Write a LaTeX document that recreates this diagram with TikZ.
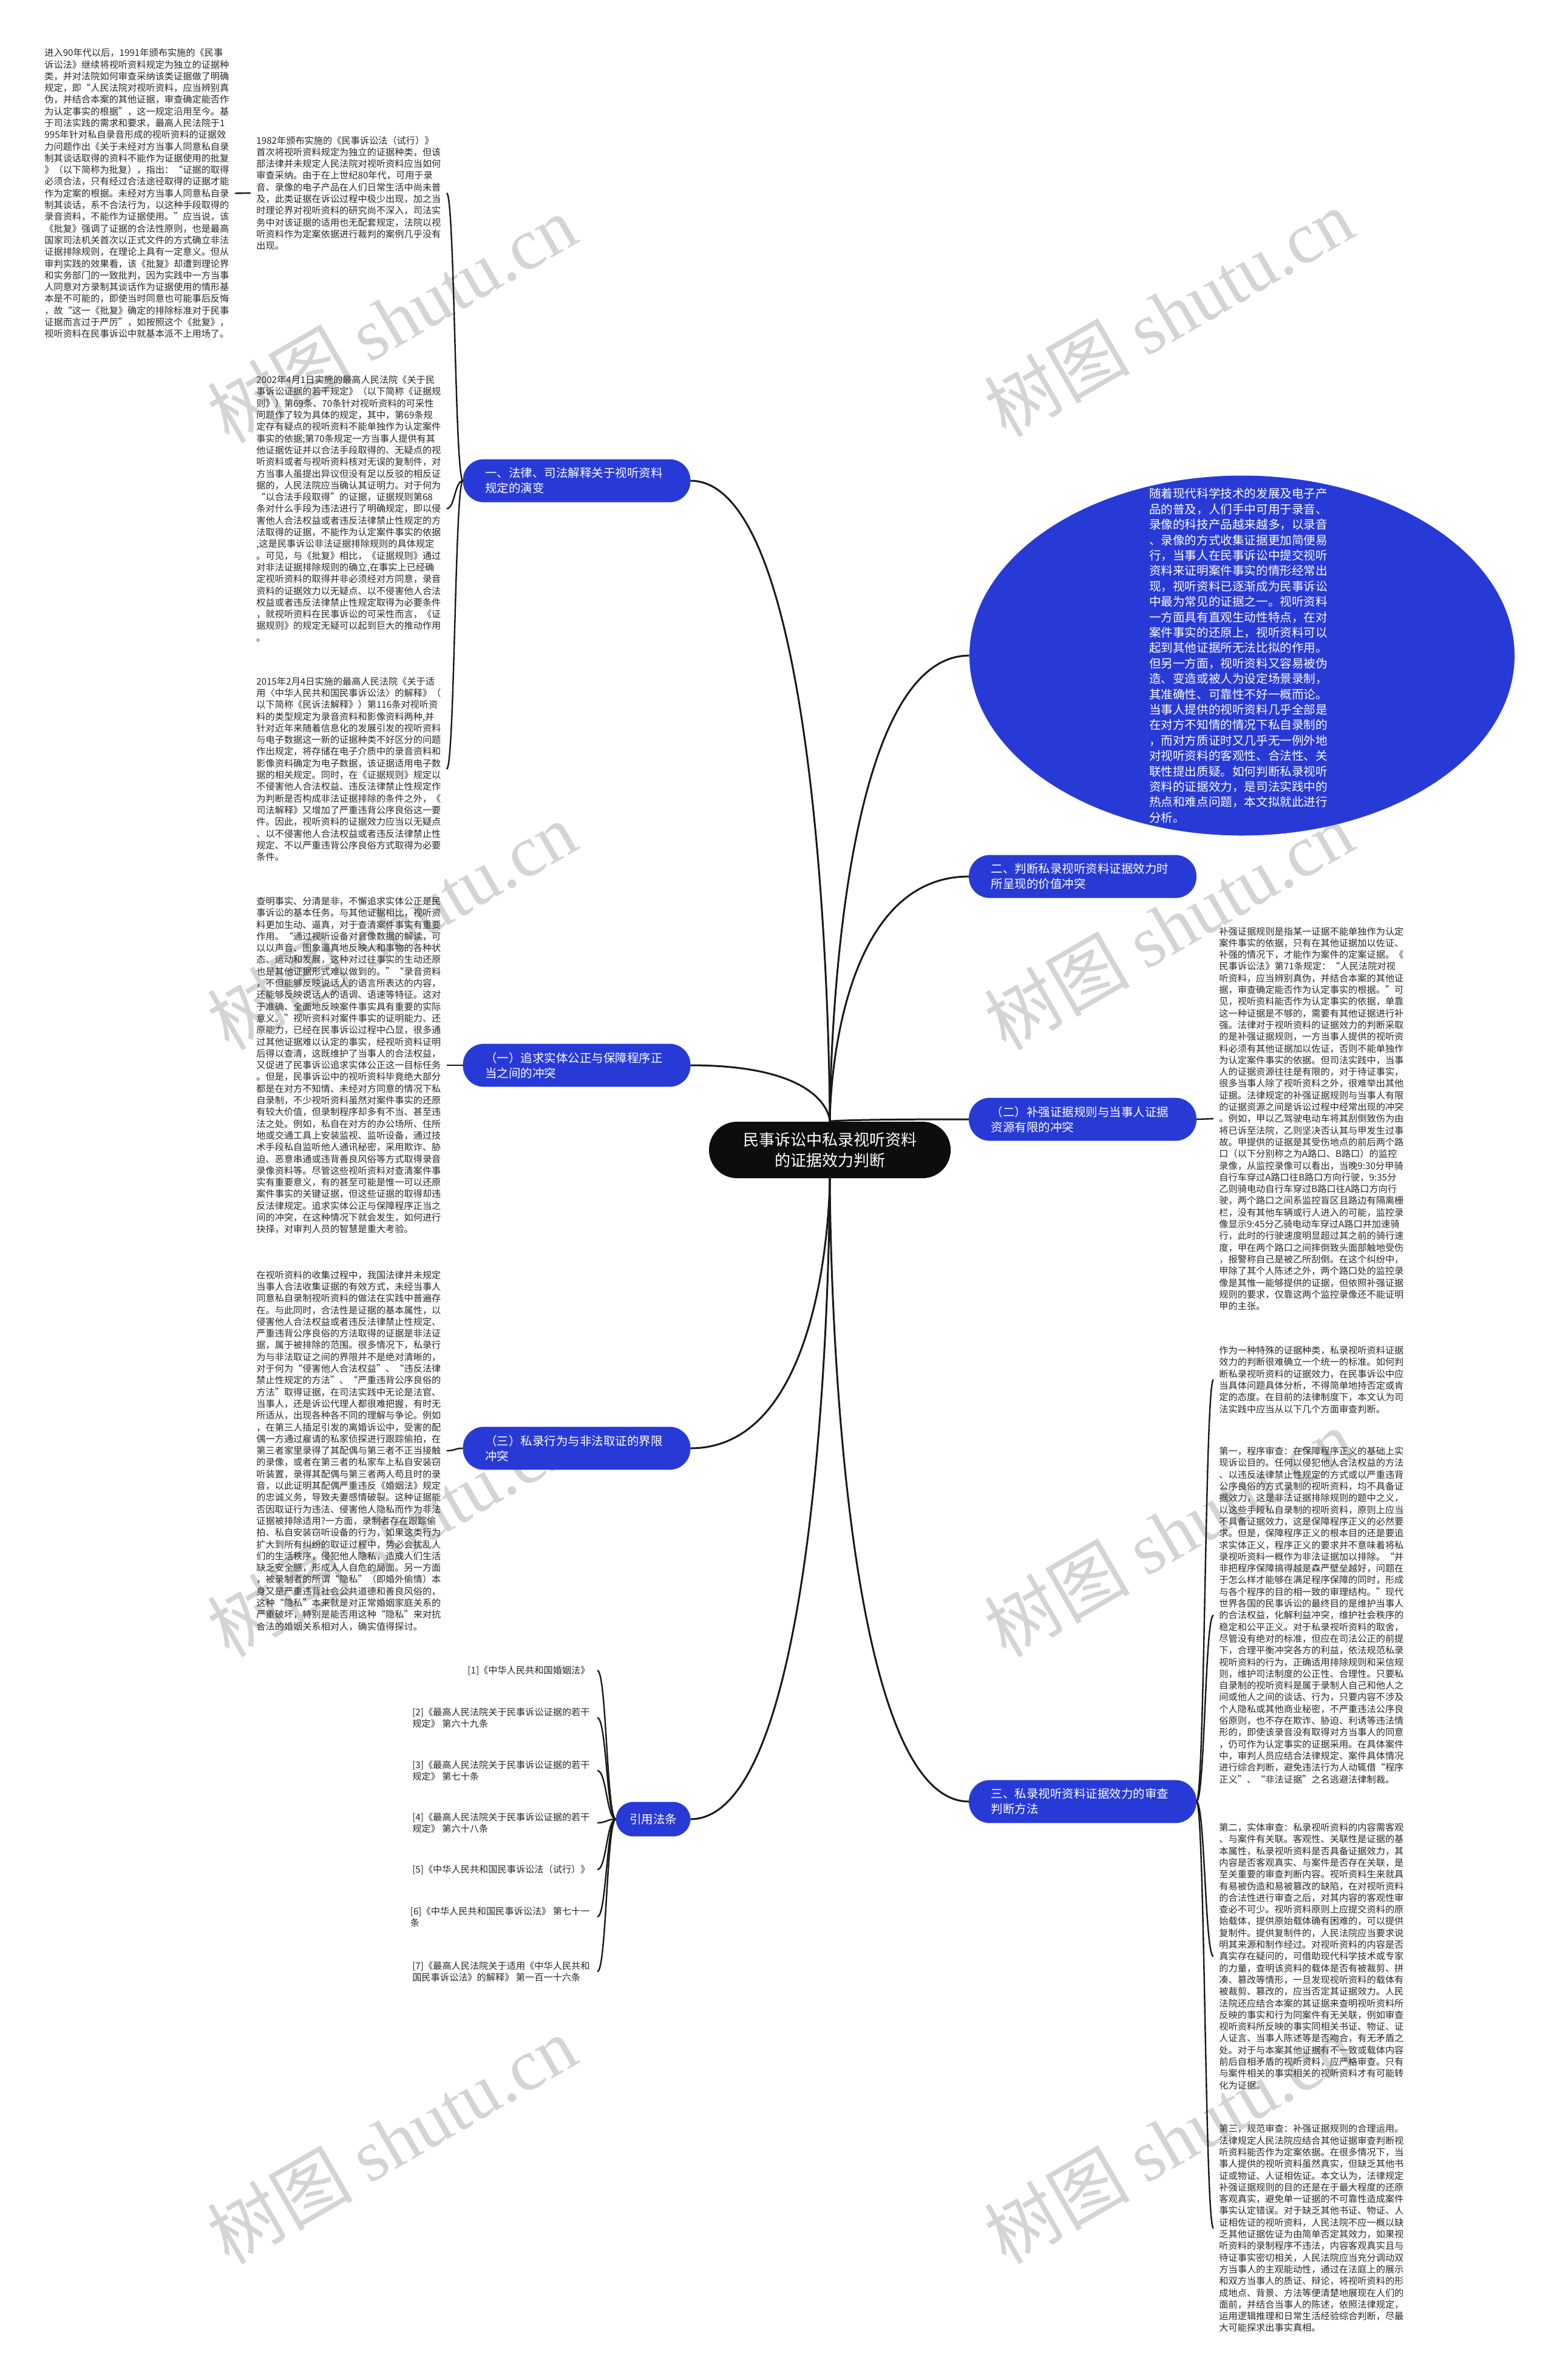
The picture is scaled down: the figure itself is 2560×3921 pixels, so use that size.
\documentclass[tikz,border=0pt]{standalone}
\usepackage{fontspec}
\setmainfont{Noto Sans CJK SC}
\newfontfamily\wmlat{Liberation Serif}
\usetikzlibrary{shapes.geometric,calc}
\definecolor{nodeblue}{RGB}{40,58,214}
\definecolor{wmgray}{RGB}{212,212,212}
\definecolor{txtgray}{RGB}{40,40,40}
\tikzset{
  blk/.style={font=\fontsize{7.6pt}{9.65pt}\selectfont, text=txtgray, align=left, text width=152pt, inner xsep=4.5pt, inner ysep=0pt, anchor=west},
  refitem/.style={font=\fontsize{7.6pt}{9.65pt}\selectfont, text=txtgray, align=left, inner xsep=6pt, inner ysep=0pt, anchor=east},
  br/.style={fill=nodeblue, draw=nodeblue, rounded corners=17pt, minimum width=187pt, minimum height=35pt, text width=151pt, inner xsep=18pt, inner ysep=0pt, align=left, text=white, font=\fontsize{9.75pt}{12.5pt}\selectfont},
  brsmall/.style={fill=nodeblue, draw=nodeblue, rounded corners=14pt, minimum width=61pt, minimum height=28pt, inner sep=0pt, align=center, text=white, font=\fontsize{9.75pt}{12.5pt}\selectfont},
  ctr/.style={fill=black!95, rounded corners=23pt, minimum width=199pt, minimum height=46.5pt, inner sep=0pt, align=center, text=white, font=\fontsize{13pt}{17pt}\selectfont},
  mconn/.style={draw=black!90, line width=1.5pt, to path={let \p1=(\tikztostart), \p2=(\tikztotarget) in .. controls (\x2,\y1) and (\x2,\y2) .. (\tikztotarget)}},
  sconn/.style={draw=black!90, line width=1.2pt, to path={let \p1=(\tikztostart), \p2=(\tikztotarget) in .. controls ({0.5*\x1+0.5*\x2},\y1) and ({0.5*\x1+0.5*\x2},\y2) .. (\tikztotarget)}},
  wm/.style={text=wmgray, rotate=30, font=\fontsize{60pt}{60pt}\selectfont, inner sep=0pt}
}
\begin{document}
\begin{tikzpicture}[x=0.5pt,y=-0.5pt]
\fill[white] (0,0) rectangle (2560,3921);
\useasboundingbox (0,0) rectangle (2560,3921);

% watermarks
\node[wm] (w1) at (645,525) {树图 {\wmlat shutu.cn}};
\node[wm] (w2) at (1925,515) {树图 {\wmlat shutu.cn}};
\node[wm] (w3) at (645,1525) {树图 {\wmlat shutu.cn}};
\node[wm] (w4) at (1925,1525) {树图 {\wmlat shutu.cn}};
\node[wm] (w5) at (645,2525) {树图 {\wmlat shutu.cn}};
\node[wm] (w6) at (1925,2525) {树图 {\wmlat shutu.cn}};
\node[wm] (w7) at (645,3525) {树图 {\wmlat shutu.cn}};
\node[wm] (w8) at (1925,3525) {树图 {\wmlat shutu.cn}};

% center
\node[ctr] (c) at (1367,1894.5) {民事诉讼中私录视听资料\\的证据效力判断};

% branch nodes
\node[br] (b1) at (950,792) {一、法律、司法解释关于视听资料\\规定的演变};
\node[br] (b2) at (950,1755) {（一）追求实体公正与保障程序正\\当之间的冲突};
\node[br] (b3) at (950,2386) {（三）私录行为与非法取证的界限\\冲突};
\node[brsmall] (rf) at (1076,2997) {引用法条};
\node[br] (n2) at (1783.5,1444) {二、判断私录视听资料证据效力时\\所呈现的价值冲突};
\node[br] (n22) at (1783.5,1844) {（二）补强证据规则与当事人证据\\资源有限的冲突};
\node[br] (n3) at (1783.5,2968) {三、私录视听资料证据效力的审查\\判断方法};

% ellipse
\node[ellipse, fill=nodeblue, minimum width=449pt, minimum height=296.5pt, inner sep=0pt] (ell) at (2046,1080) {};
\node[font=\fontsize{9.8pt}{12.7pt}\selectfont, text=white, align=left, inner sep=0pt] (elltxt) at (2040,1080) {随着现代科学技术的发展及电子产\\品的普及，人们手中可用于录音、\\录像的科技产品越来越多，以录音\\、录像的方式收集证据更加简便易\\行，当事人在民事诉讼中提交视听\\资料来证明案件事实的情形经常出\\现，视听资料已逐渐成为民事诉讼\\中最为常见的证据之一。视听资料\\一方面具有直观生动性特点，在对\\案件事实的还原上，视听资料可以\\起到其他证据所无法比拟的作用。\\但另一方面，视听资料又容易被伪\\造、变造或被人为设定场景录制，\\其准确性、可靠性不好一概而论。\\当事人提供的视听资料几乎全部是\\在对方不知情的情况下私自录制的\\，而对方质证时又几乎无一例外地\\对视听资料的客观性、合法性、关\\联性提出质疑。如何判断私录视听\\资料的证据效力，是司法实践中的\\热点和难点问题，本文拟就此进行\\分析。};

% left text blocks
\node[blk] (t1) at (64,318.5) {进入90年代以后，1991年颁布实施的《民事\\诉讼法》继续将视听资料规定为独立的证据种\\类，并对法院如何审查采纳该类证据做了明确\\规定，即“人民法院对视听资料，应当辨别真\\伪，并结合本案的其他证据，审查确定能否作\\为认定事实的根据”，这一规定沿用至今。基\\于司法实践的需求和要求，最高人民法院于1\\995年针对私自录音形成的视听资料的证据效\\力问题作出《关于未经对方当事人同意私自录\\制其谈话取得的资料不能作为证据使用的批复\\》（以下简称为批复），指出：“证据的取得\\必须合法，只有经过合法途径取得的证据才能\\作为定案的根据。未经对方当事人同意私自录\\制其谈话，系不合法行为，以这种手段取得的\\录音资料，不能作为证据使用。”应当说，该\\《批复》强调了证据的合法性原则，也是最高\\国家司法机关首次以正式文件的方式确立非法\\证据排除规则，在理论上具有一定意义。但从\\审判实践的效果看，该《批复》却遭到理论界\\和实务部门的一致批判，因为实践中一方当事\\人同意对方录制其谈话作为证据使用的情形基\\本是不可能的，即使当时同意也可能事后反悔\\，故“这一《批复》确定的排除标准对于民事\\证据而言过于严厉”，如按照这个《批复》，\\视听资料在民事诉讼中就基本派不上用场了。};

\node[blk] (t2) at (413,318) {1982年颁布实施的《民事诉讼法（试行）》\\首次将视听资料规定为独立的证据种类，但该\\部法律并未规定人民法院对视听资料应当如何\\审查采纳。由于在上世纪80年代，可用于录\\音、录像的电子产品在人们日常生活中尚未普\\及，此类证据在诉讼过程中极少出现，加之当\\时理论界对视听资料的研究尚不深入，司法实\\务中对该证据的适用也无配套规定，法院以视\\听资料作为定案依据进行裁判的案例几乎没有\\出现。};

\node[blk] (t3) at (413,838) {2002年4月1日实施的最高人民法院《关于民\\事诉讼证据的若干规定》（以下简称《证据规\\则》）第69条、70条针对视听资料的可采性\\问题作了较为具体的规定，其中，第69条规\\定存有疑点的视听资料不能单独作为认定案件\\事实的依据;第70条规定一方当事人提供有其\\他证据佐证并以合法手段取得的、无疑点的视\\听资料或者与视听资料核对无误的复制件，对\\方当事人虽提出异议但没有足以反驳的相反证\\据的，人民法院应当确认其证明力。对于何为\\“以合法手段取得”的证据，证据规则第68\\条对什么手段为违法进行了明确规定，即以侵\\害他人合法权益或者违反法律禁止性规定的方\\法取得的证据，不能作为认定案件事实的依据\\,这是民事诉讼非法证据排除规则的具体规定\\。可见，与《批复》相比，《证据规则》通过\\对非法证据排除规则的确立,在事实上已经确\\定视听资料的取得并非必须经对方同意，录音\\资料的证据效力以无疑点、以不侵害他人合法\\权益或者违反法律禁止性规定取得为必要条件\\，就视听资料在民事诉讼的可采性而言，《证\\据规则》的规定无疑可以起到巨大的推动作用\\。};

\node[blk] (t4) at (413,1267) {2015年2月4日实施的最高人民法院《关于适\\用〈中华人民共和国民事诉讼法〉的解释》（\\以下简称《民诉法解释》）第116条对视听资\\料的类型规定为录音资料和影像资料两种,并\\针对近年来随着信息化的发展引发的视听资料\\与电子数据这一新的证据种类不好区分的问题\\作出规定，将存储在电子介质中的录音资料和\\影像资料确定为电子数据，该证据适用电子数\\据的相关规定。同时，在《证据规则》规定以\\不侵害他人合法权益、违反法律禁止性规定作\\为判断是否构成非法证据排除的条件之外，《\\司法解释》又增加了严重违背公序良俗这一要\\件。因此，视听资料的证据效力应当以无疑点\\、以不侵害他人合法权益或者违反法律禁止性\\规定、不以严重违背公序良俗方式取得为必要\\条件。};

\node[blk] (t5) at (413,1755) {查明事实、分清是非，不懈追求实体公正是民\\事诉讼的基本任务。与其他证据相比，视听资\\料更加生动、逼真，对于查清案件事实有重要\\作用。“通过视听设备对音像数据的解读，可\\以以声音、图象逼真地反映人和事物的各种状\\态、运动和发展，这种对过往事实的生动还原\\也是其他证据形式难以做到的。”“录音资料\\，不但能够反映说话人的语言所表达的内容，\\还能够反映说话人的语调、语速等特征。这对\\于准确、全面地反映案件事实具有重要的实际\\意义。”视听资料对案件事实的证明能力、还\\原能力，已经在民事诉讼过程中凸显，很多通\\过其他证据难以认定的事实，经视听资料证明\\后得以查清，这既维护了当事人的合法权益，\\又促进了民事诉讼追求实体公正这一目标任务\\。但是，民事诉讼中的视听资料毕竟绝大部分\\都是在对方不知情、未经对方同意的情况下私\\自录制，不少视听资料虽然对案件事实的还原\\有较大价值，但录制程序却多有不当、甚至违\\法之处。例如，私自在对方的办公场所、住所\\地或交通工具上安装监视、监听设备，通过技\\术手段私自监听他人通讯秘密，采用欺诈、胁\\迫、恶意串通或违背善良风俗等方式取得录音\\录像资料等。尽管这些视听资料对查清案件事\\实有重要意义，有的甚至可能是惟一可以还原\\案件事实的关键证据，但这些证据的取得却违\\反法律规定。追求实体公正与保障程序正当之\\间的冲突，在这种情况下就会发生，如何进行\\抉择，对审判人员的智慧是重大考验。};

\node[blk] (t6) at (413,2390) {在视听资料的收集过程中，我国法律并未规定\\当事人合法收集证据的有效方式，未经当事人\\同意私自录制视听资料的做法在实践中普遍存\\在。与此同时，合法性是证据的基本属性，以\\侵害他人合法权益或者违反法律禁止性规定、\\严重违背公序良俗的方法取得的证据是非法证\\据，属于被排除的范围。很多情况下，私录行\\为与非法取证之间的界限并不是绝对清晰的，\\对于何为“侵害他人合法权益”、“违反法律\\禁止性规定的方法”、“严重违背公序良俗的\\方法”取得证据，在司法实践中无论是法官、\\当事人，还是诉讼代理人都很难把握，有时无\\所适从，出现各种各不同的理解与争论。例如\\，在第三人插足引发的离婚诉讼中，受害的配\\偶一方通过雇请的私家侦探进行跟踪偷拍，在\\第三者家里录得了其配偶与第三者不正当接触\\的录像，或者在第三者的私家车上私自安装窃\\听装置，录得其配偶与第三者两人苟且时的录\\音，以此证明其配偶严重违反《婚姻法》规定\\的忠诚义务，导致夫妻感情破裂。这种证据能\\否因取证行为违法、侵害他人隐私而作为非法\\证据被排除适用?一方面，录制者存在跟踪偷\\拍、私自安装窃听设备的行为，如果这类行为\\扩大到所有纠纷的取证过程中，势必会扰乱人\\们的生活秩序，侵犯他人隐私，造成人们生活\\缺乏安全感，形成人人自危的局面。另一方面\\，被录制者的所谓“隐私”（即婚外偷情）本\\身又是严重违背社会公共道德和善良风俗的，\\这种“隐私”本来就是对正常婚姻家庭关系的\\严重破坏，特别是能否用这种“隐私”来对抗\\合法的婚姻关系相对人，确实值得探讨。};

% references
\node[refitem] (r1) at (984,2752) {[1]《中华人民共和国婚姻法》};
\node[refitem] (r2) at (984,2830) {[2]《最高人民法院关于民事诉讼证据的若干\\规定》 第六十九条};
\node[refitem] (r3) at (984,2917) {[3]《最高人民法院关于民事诉讼证据的若干\\规定》 第七十条};
\node[refitem] (r4) at (984,3003) {[4]《最高人民法院关于民事诉讼证据的若干\\规定》 第六十八条};
\node[refitem] (r5) at (984,3080) {[5]《中华人民共和国民事诉讼法（试行）》};
\node[refitem] (r6) at (984,3158) {[6]《中华人民共和国民事诉讼法》 第七十一\\条};
\node[refitem] (r7) at (984,3248) {[7]《最高人民法院关于适用《中华人民共和\\国民事诉讼法》的解释》 第一百一十六条};

% right text blocks
\node[blk] (t9) at (1999,1843) {补强证据规则是指某一证据不能单独作为认定\\案件事实的依据，只有在其他证据加以佐证、\\补强的情况下，才能作为案件的定案证据。《\\民事诉讼法》第71条规定：“人民法院对视\\听资料，应当辨别真伪，并结合本案的其他证\\据，审查确定能否作为认定事实的根据。”可\\见，视听资料能否作为认定事实的依据，单靠\\这一种证据是不够的，需要有其他证据进行补\\强。法律对于视听资料的证据效力的判断采取\\的是补强证据规则，一方当事人提供的视听资\\料必须有其他证据加以佐证，否则不能单独作\\为认定案件事实的依据。但司法实践中，当事\\人的证据资源往往是有限的，对于待证事实，\\很多当事人除了视听资料之外，很难举出其他\\证据。法律规定的补强证据规则与当事人有限\\的证据资源之间是诉讼过程中经常出现的冲突\\。例如，甲以乙驾驶电动车将其刮倒致伤为由\\将已诉至法院，乙则坚决否认其与甲发生过事\\故。甲提供的证据是其受伤地点的前后两个路\\口（以下分别称之为A路口、B路口）的监控\\录像，从监控录像可以看出，当晚9:30分甲骑\\自行车穿过A路口往B路口方向行驶，9:35分\\乙则骑电动自行车穿过B路口往A路口方向行\\驶，两个路口之间系监控盲区且路边有隔离栅\\栏，没有其他车辆或行人进入的可能，监控录\\像显示9:45分乙骑电动车穿过A路口并加速骑\\行，此时的行驶速度明显超过其之前的骑行速\\度，甲在两个路口之间摔倒致头面部触地受伤\\，报警称自己是被乙所刮倒。在这个纠纷中，\\甲除了其个人陈述之外，两个路口处的监控录\\像是其惟一能够提供的证据，但依照补强证据\\规则的要求，仅靠这两个监控录像还不能证明\\甲的主张。};

\node[blk] (t10) at (1999,2273) {作为一种特殊的证据种类，私录视听资料证据\\效力的判断很难确立一个统一的标准。如何判\\断私录视听资料的证据效力，在民事诉讼中应\\当具体问题具体分析，不得简单地持否定或肯\\定的态度。在目前的法律制度下，本文认为司\\法实践中应当从以下几个方面审查判断。};

\node[blk] (t11) at (1999,2661) {第一，程序审查：在保障程序正义的基础上实\\现诉讼目的。任何以侵犯他人合法权益的方法\\、以违反法律禁止性规定的方式或以严重违背\\公序良俗的方式录制的视听资料，均不具备证\\据效力，这是非法证据排除规则的题中之义，\\以这些手段私自录制的视听资料，原则上应当\\不具备证据效力，这是保障程序正义的必然要\\求。但是，保障程序正义的根本目的还是要追\\求实体正义，程序正义的要求并不意味着将私\\录视听资料一概作为非法证据加以排除。“并\\非把程序保障搞得越是森严壁垒越好，问题在\\于怎么样才能够在满足程序保障的同时，形成\\与各个程序的目的相一致的审理结构。”现代\\世界各国的民事诉讼的最终目的是维护当事人\\的合法权益，化解利益冲突，维护社会秩序的\\稳定和公平正义。对于私录视听资料的取舍，\\尽管没有绝对的标准，但应在司法公正的前提\\下，合理平衡冲突各方的利益，依法规范私录\\视听资料的行为，正确适用排除规则和采信规\\则，维护司法制度的公正性、合理性。只要私\\自录制的视听资料是属于录制人自己和他人之\\间或他人之间的谈话、行为，只要内容不涉及\\个人隐私或其他商业秘密，不严重违法公序良\\俗原则，也不存在欺诈、胁迫、利诱等违法情\\形的，即使该录音没有取得对方当事人的同意\\，仍可作为认定事实的证据采用。在具体案件\\中，审判人员应结合法律规定、案件具体情况\\进行综合判断，避免违法行为人动辄借“程序\\正义”、“非法证据”之名逃避法律制裁。};

\node[blk] (t12) at (1999,3223) {第二，实体审查：私录视听资料的内容需客观\\、与案件有关联。客观性、关联性是证据的基\\本属性，私录视听资料是否具备证据效力，其\\内容是否客观真实、与案件是否存在关联，是\\至关重要的审查判断内容。视听资料生来就具\\有易被伪造和易被篡改的缺陷，在对视听资料\\的合法性进行审查之后，对其内容的客观性审\\查必不可少。视听资料原则上应提交资料的原\\始载体，提供原始载体确有困难的，可以提供\\复制件。提供复制件的，人民法院应当要求说\\明其来源和制作经过。对视听资料的内容是否\\真实存在疑问的，可借助现代科学技术或专家\\的力量，查明该资料的载体是否有被裁剪、拼\\凑、篡改等情形，一旦发现视听资料的载体有\\被裁剪、篡改的，应当否定其证据效力。人民\\法院还应结合本案的其证据来查明视听资料所\\反映的事实和行为同案件有无关联，例如审查\\视听资料所反映的事实同相关书证、物证、证\\人证言、当事人陈述等是否吻合，有无矛盾之\\处。对于与本案其他证据有不一致或载体内容\\前后自相矛盾的视听资料，应严格审查。只有\\与案件相关的事实相关的视听资料才有可能转\\化为证据。};

\node[blk] (t13) at (1999,3671) {第三，规范审查：补强证据规则的合理运用。\\法律规定人民法院应结合其他证据审查判断视\\听资料能否作为定案依据。在很多情况下，当\\事人提供的视听资料虽然真实，但缺乏其他书\\证或物证、人证相佐证。本文认为，法律规定\\补强证据规则的目的还是在于最大程度的还原\\客观真实，避免单一证据的不可靠性造成案件\\事实认定错误。对于缺乏其他书证、物证、人\\证相佐证的视听资料，人民法院不应一概以缺\\乏其他证据佐证为由简单否定其效力，如果视\\听资料的录制程序不违法，内容客观真实且与\\待证事实密切相关，人民法院应当充分调动双\\方当事人的主观能动性，通过在法庭上的展示\\和双方当事人的质证、辩论，将视听资料的形\\成地点、背景、方法等便清楚地展现在人们的\\面前，并结合当事人的陈述，依照法律规定，\\运用逻辑推理和日常生活经验综合判断，尽最\\大可能探求出事实真相。};

% main connectors
\draw[mconn] (b1.east) to (c.north);
\draw[mconn] (b2.east) to (c.north);
\draw[mconn] (ell.west) to (c.north);
\draw[mconn] (n2.west) to (c.north);
\draw[mconn] (n22.west) to (c.north);
\draw[mconn] (b3.east) to (c.south);
\draw[mconn] (rf.east) to (c.south);
\draw[mconn] (n3.west) to (c.south);

% child connectors
\draw[sconn] (b1.west) to (t2.east);
\draw[sconn] (b1.west) to (t3.east);
\draw[sconn] (b1.west) to (t4.east);
\draw[sconn] (t2.west) to (t1.east);
\draw[sconn] (b2.west) to (t5.east);
\draw[sconn] (b3.west) to (t6.east);
\foreach \r in {r1,r2,r3,r4,r5,r6,r7} {\draw[sconn] (rf.west) to (\r.east);}
\draw[sconn] (n22.east) to (t9.west);
\foreach \t in {t10,t11,t12,t13} {\draw[sconn] (n3.east) to (\t.west);}
\end{tikzpicture}
\end{document}
